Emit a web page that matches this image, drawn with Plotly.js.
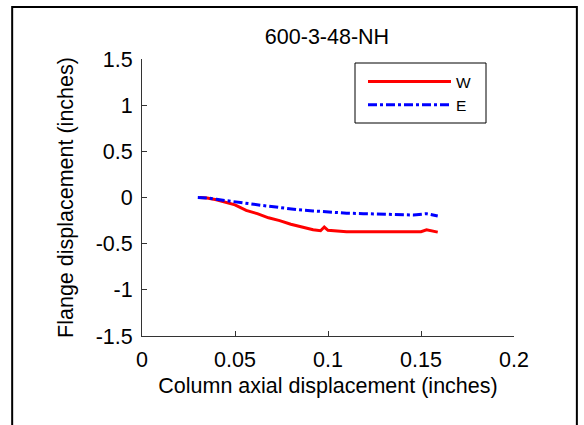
<!DOCTYPE html>
<html><head><meta charset="utf-8">
<script src="https://cdn.plot.ly/plotly-3.0.1.min.js"></script>
<style>html,body{margin:0;padding:0;background:#fff}#chart{width:584px;height:425px}</style>
</head><body><div id="chart"></div>
<script>
var chartTitle = "600-3-48-NH";
var xTitle = "Column axial displacement (inches)";
var yTitle = "Flange displacement (inches)";
var seriesNames = ["W", "E"];
var wX = [0.031, 0.035, 0.040, 0.045, 0.050, 0.056, 0.062, 0.068, 0.074, 0.080, 0.086, 0.092, 0.096, 0.097, 0.098, 0.100, 0.105, 0.110, 0.120, 0.130, 0.140, 0.150, 0.153, 0.156, 0.159];
var wY = [0.0, -0.005, -0.025, -0.05, -0.08, -0.14, -0.175, -0.22, -0.25, -0.29, -0.32, -0.35, -0.36, -0.34, -0.32, -0.355, -0.36, -0.37, -0.37, -0.37, -0.37, -0.37, -0.35, -0.36, -0.375];
var eX = [0.030, 0.035, 0.040, 0.047, 0.055, 0.065, 0.074, 0.083, 0.092, 0.101, 0.110, 0.119, 0.128, 0.137, 0.146, 0.153, 0.156, 0.159];
var eY = [0.0, -0.005, -0.02, -0.035, -0.06, -0.087, -0.11, -0.13, -0.145, -0.16, -0.17, -0.175, -0.18, -0.185, -0.19, -0.175, -0.19, -0.2];
var xTicks = [0, 0.05, 0.1, 0.15, 0.2];
var xTickText = ["0", "0.05", "0.1", "0.15", "0.2"];
var yTicks = [-1.5, -1, -0.5, 0, 0.5, 1, 1.5];
var yTickText = ["-1.5", "-1", "-0.5", "0", "0.5", "1", "1.5"];

var font = "Arial, 'Liberation Sans', sans-serif";
var fs = 21.5;
var traces = [
  {x: wX, y: wY, name: seriesNames[0], legendgroup: "w", mode: "lines", line: {color: "#ff0000", width: 3}},
  {x: eX, y: eY, name: seriesNames[1], legendgroup: "e", mode: "lines", line: {color: "#0000ff", width: 3, dash: "dashdot"}}
];
var layout = {
  width: 584, height: 425,
  margin: {l: 142, r: 70, t: 59, b: 89},
  paper_bgcolor: "#fff", plot_bgcolor: "#fff",
  font: {family: font, size: fs, color: "#000"},
  title: {text: chartTitle, x: 327/584, xanchor: "center", y: 1 - 36/425, yanchor: "middle", yref: "container", font: {family: font, size: 21.5, color: "#000"}},
  xaxis: {range: [0, 0.2], tickvals: xTicks, ticktext: xTickText, showgrid: false, zeroline: false,
    showline: true, linecolor: "#333", linewidth: 1, ticks: "inside", ticklen: 5, tickcolor: "#333", ticklabelstandoff: 4,
    title: {text: xTitle, standoff: 7, font: {family: font, size: fs, color: "#000"}}, tickfont: {size: fs}},
  yaxis: {range: [-1.5, 1.5], tickvals: yTicks, ticktext: yTickText, showgrid: false, zeroline: false,
    showline: true, linecolor: "#333", linewidth: 1, ticks: "inside", ticklen: 5, tickcolor: "#333", ticklabelstandoff: 4,
    title: {text: yTitle, standoff: 16, font: {family: font, size: fs, color: "#000"}}, tickfont: {size: fs}},
  showlegend: true,
  legend: {x: (363 - 142) / 372, y: (336 - 65) / 277, xanchor: "left", yanchor: "top", bgcolor: "rgba(0,0,0,0)", borderwidth: 0,
    font: {family: font, size: 15.5, color: "#000"}, itemwidth: 83, tracegroupgap: 0, traceorder: "grouped"},
  shapes: [
    {type: "rect", xref: "paper", yref: "paper", x0: -0.349, x1: 1.169, y0: -0.5, y1: 1.188, line: {color: "#000", width: 2}},
    {type: "rect", xref: "paper", yref: "paper", x0: (355 - 142) / 372, x1: (486 - 142) / 372, y0: (336 - 123) / 277, y1: (336 - 63) / 277, line: {color: "#000", width: 1}, fillcolor: "#fff", layer: "below"}
  ]
};
Plotly.newPlot("chart", traces, layout, {staticPlot: true, displayModeBar: false});
</script></body></html>
